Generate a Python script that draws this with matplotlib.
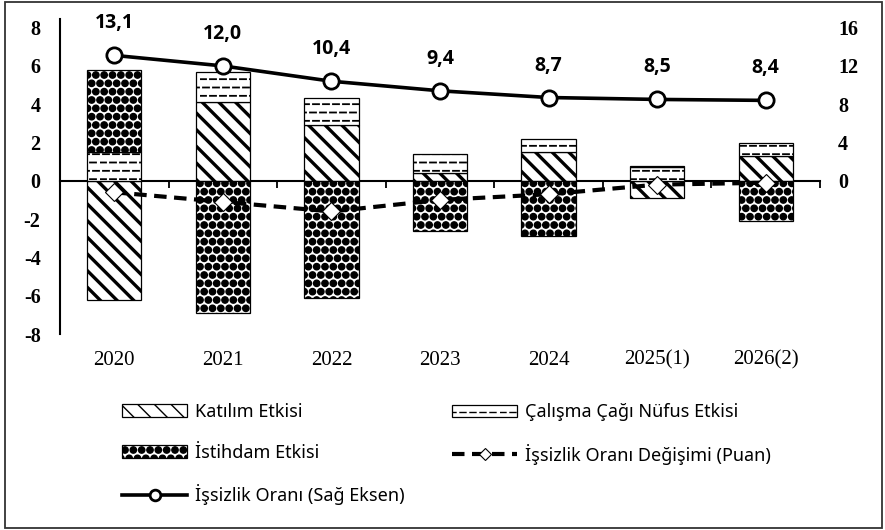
import numpy as np
import matplotlib
matplotlib.use("Agg")
import matplotlib.pyplot as plt
import matplotlib.hatch as mhatch
from matplotlib.path import Path
from matplotlib.patches import Rectangle

# veriler
yillar = ['2020', '2021', '2022', '2023', '2024', '2025(1)', '2026(2)']
katilim = [-6.2, 4.1, 2.9, 0.4, 1.5, -0.9, 1.3]
calisma_cagi = [1.5, 1.6, 1.4, 1.0, 0.7, 0.7, 0.7]
istihdam = [4.3, -6.9, -6.1, -2.6, -2.9, 0.05, -2.1]
oran_degisim = [-0.6, -1.1, -1.6, -1.0, -0.7, -0.2, -0.1]
issizlik_orani = [13.1, 12.0, 10.4, 9.4, 8.7, 8.5, 8.4]

plt.rcParams['axes.unicode_minus'] = False


# kesikli yatay tarama deseni ('-' yerine)
class KesikliYatay(mhatch.HatchPatternBase):
    n_dash = 10

    def __init__(self, hatch, density):
        self.num_lines = int((hatch.count('-') + hatch.count('+')) * density)
        self.num_vertices = self.num_lines * self.n_dash * 2

    def set_vertices_and_codes(self, vertices, codes):
        step = 1.0 / self.n_dash
        i = 0
        for r in range(self.num_lines):
            y = (r + 0.5) / self.num_lines
            kay = 0.3 * step if r % 2 else 0.0
            for k in range(self.n_dash):
                x0 = k * step + kay
                vertices[i] = (x0, y)
                vertices[i + 1] = (x0 + 0.6 * step, y)
                codes[i] = Path.MOVETO
                codes[i + 1] = Path.LINETO
                i += 2


mhatch._hatch_types = [KesikliYatay if t is mhatch.HorizontalHatch else t
                       for t in mhatch._hatch_types]
mhatch.SmallFilledCircles.size = 0.38  # iri dolu noktalar

serif = 'Liberation Serif'
sans = 'Noto Sans'

fig = plt.figure(figsize=(8.85, 5.3), dpi=100)
ax = fig.add_axes([60 / 885, 1 - 334 / 530, 760 / 885, 315 / 530])
ymin, ymax = -8, 8.45
ax.set_ylim(ymin, ymax)
ax.set_xlim(-0.5, len(yillar) - 0.5)

x = np.arange(len(yillar))
pos = np.zeros(len(yillar))
neg = np.zeros(len(yillar))


def yigin(degerler, hatch, hlw, etiket):
    global pos, neg
    d = np.array(degerler)
    alt = np.where(d >= 0, pos, neg)
    with plt.rc_context({'hatch.linewidth': hlw}):
        bars = ax.bar(x, d, 0.5, bottom=alt, color='white', edgecolor='black',
                      linewidth=0.9, hatch=hatch, label=etiket, zorder=2)
    for b in bars:
        if hasattr(b, 'set_hatch_linewidth'):
            b.set_hatch_linewidth(hlw)
    pos = pos + np.where(d >= 0, d, 0)
    neg = neg + np.where(d < 0, d, 0)
    return bars


b_kat = yigin(katilim, '\\\\', 2.4, 'Katılım Etkisi')
b_cal = yigin(calisma_cagi, '--', 1.3, 'Çalışma Çağı Nüfus Etkisi')
b_ist = yigin(istihdam, '..', 1.0, 'İstihdam Etkisi')

l_deg, = ax.plot(x, oran_degisim, color='black', lw=3, dashes=(3, 1.8),
                 marker='D', markersize=9, markerfacecolor='white',
                 markeredgecolor='black', markeredgewidth=0.8, zorder=4,
                 label='İşsizlik Oranı Değişimi (Puan)')

for s in ['top', 'right', 'bottom']:
    ax.spines[s].set_visible(False)
ax.spines['left'].set_linewidth(1.5)
ax.set_yticks(range(-8, 9, 2))
ax.tick_params(axis='y', length=0, pad=14)
for t in ax.get_yticklabels():
    t.set_fontfamily(serif)
    t.set_fontweight('bold')
    t.set_fontsize(14.5)
ax.set_xticks(x, yillar)
ax.tick_params(axis='x', length=0, pad=12)
for t in ax.get_xticklabels():
    t.set_fontfamily(serif)
    t.set_fontsize(15)

# sıfır çizgisi ve kategori ayraç çentikleri
sifir = ax.secondary_xaxis((0 - ymin) / (ymax - ymin))
sifir.set_xticks(x + 0.5)
sifir.tick_params(length=5, width=1.3, direction='out',
                  labelbottom=False, labeltop=False)
for s in sifir.spines.values():
    s.set_linewidth(1.5)

# sağ eksen
ax2 = ax.twinx()
ax2.set_ylim(ymin * 2, ymax * 2)
ax2.set_yticks(range(0, 17, 4))
ax2.tick_params(axis='y', length=0, pad=13)
for s in ax2.spines.values():
    s.set_visible(False)
for t in ax2.get_yticklabels():
    t.set_fontfamily(serif)
    t.set_fontweight('bold')
    t.set_fontsize(14.5)

l_oran, = ax2.plot(x, issizlik_orani, color='black', lw=2.6, marker='o',
                   markersize=11, markerfacecolor='white',
                   markeredgecolor='black', markeredgewidth=2,
                   label='İşsizlik Oranı (Sağ Eksen)', zorder=5)
for xi, v in zip(x, issizlik_orani):
    ax2.annotate(f'{v:.1f}'.replace('.', ','), (xi, v), xytext=(0, 23),
                 textcoords='offset points', ha='center', va='center',
                 fontfamily='Open Sans', fontweight='bold', fontsize=14)

# lejant
ortak = dict(frameon=False, handlelength=3.6, handletextpad=0.45,
             borderpad=0, borderaxespad=0, labelspacing=1.25, markerscale=0.7,
             prop={'family': sans, 'size': 13})
fig.legend([b_kat, b_ist, l_oran],
           [b_kat.get_label(), b_ist.get_label(), l_oran.get_label()],
           loc='center left', bbox_to_anchor=(122 / 885, 1 - 454 / 530), **ortak)
fig.legend([b_cal, l_deg], [b_cal.get_label(), l_deg.get_label()],
           loc='center left', bbox_to_anchor=(452 / 885, 1 - 434 / 530), **ortak)

# dış çerçeve
fig.patches.append(Rectangle((5 / 885, 2 / 530), 877 / 885, 526 / 530,
                             transform=fig.transFigure, fill=False,
                             edgecolor='#333333', linewidth=1.3))

fig.savefig('out.png', dpi=100)
